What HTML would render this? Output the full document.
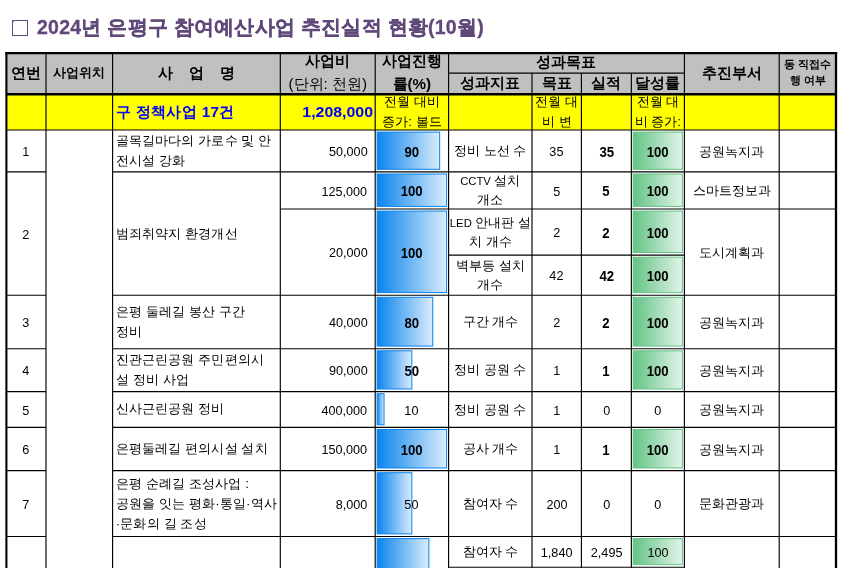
<!DOCTYPE html>
<html lang="ko"><head><meta charset="utf-8"><title>2024년 은평구 참여예산사업 추진실적 현황(10월)</title>
<style>
html,body{margin:0;padding:0;background:#fff;}
body{font-family:"Liberation Sans",sans-serif;color:#000;}
#w{will-change:transform;position:relative;width:842px;height:568px;overflow:hidden;background:#fff;}
#w svg{position:absolute;left:0;top:0;}
.bg{position:absolute;}
.sq{display:inline-block;box-sizing:border-box;width:16.4px;height:16.4px;border:1.3px solid #60497a;color:transparent;font-size:1px;line-height:1px;letter-spacing:0;overflow:hidden;vertical-align:-2.5px;margin-right:8.6px;}
.title{position:absolute;left:12px;top:11.5px;height:30px;line-height:30px;font-size:19.5px;letter-spacing:.25px;font-weight:bold;color:#60497a;white-space:nowrap;-webkit-text-stroke:.3px #60497a;}
.c{position:absolute;box-sizing:border-box;display:flex;align-items:center;justify-content:center;text-align:center;
   font-size:13.3px;line-height:20px;white-space:nowrap;overflow:hidden;}
.c span{display:block;}
.l{justify-content:flex-start;text-align:left;padding-left:3.2px;}
.r{justify-content:flex-end;text-align:right;padding-right:8px;}
.h{font-weight:bold;font-size:15.2px;line-height:22.5px;padding-bottom:1.5px;}
.h2{padding-top:0;}
.h .n{font-weight:normal;}
.b{font-weight:bold;}
.num.b{font-size:14px;padding-top:1.2px;}
.num.b span{transform:scaleX(.94);}
.la{font-style:normal;font-size:11.3px;}
.yb{font-weight:bold;font-size:15.3px;color:#0000ff;}
.yb.l{letter-spacing:.35px;}
.yb.r span{transform:scaleX(1.04);transform-origin:100% 50%;}
.yt{font-size:13.2px;line-height:20px;}
.num{font-size:13.3px;padding-top:2.4px;}
.num span{transform:scaleX(.95);}
.r.num span{transform-origin:100% 50%;}
.ind{font-size:12.5px;line-height:19px;padding-top:1.4px;}
.dp{font-size:13.2px;padding-top:1.6px;}
.nm{font-size:13.3px;line-height:20px;letter-spacing:.12px;}
</style></head><body>
<div id="w">
<div class="bg" style="left:6px;top:53px;width:830px;height:41px;background:#c0c0c0;"></div>
<div class="bg" style="left:6px;top:94px;width:830px;height:36px;background:#ffff00;"></div>
<svg width="842" height="568" viewBox="0 0 842 568">
<defs>
<linearGradient id="bg" x1="0" y1="0" x2="1" y2="0"><stop offset="0" stop-color="#0a84ee"/><stop offset="1" stop-color="#d9ecfc"/></linearGradient>
<linearGradient id="gg" x1="0" y1="0" x2="1" y2="0"><stop offset="0" stop-color="#63c384"/><stop offset="1" stop-color="#e3f4ea"/></linearGradient>
</defs>
<rect x="377.1" y="132.1" width="62.55" height="37.2" fill="url(#bg)" stroke="#0a84ee" stroke-width="1"/><rect x="633.2" y="132.1" width="49.2" height="37.2" fill="url(#gg)" stroke="#63c384" stroke-width="1"/><rect x="377.1" y="174" width="69.5" height="32.4" fill="url(#bg)" stroke="#0a84ee" stroke-width="1"/><rect x="633.2" y="174" width="49.2" height="32.4" fill="url(#gg)" stroke="#63c384" stroke-width="1"/><rect x="377.1" y="211.1" width="69.5" height="81.5" fill="url(#bg)" stroke="#0a84ee" stroke-width="1"/><rect x="633.2" y="211.1" width="49.2" height="41.4" fill="url(#gg)" stroke="#63c384" stroke-width="1"/><rect x="633.2" y="257.2" width="49.2" height="35.4" fill="url(#gg)" stroke="#63c384" stroke-width="1"/><rect x="377.1" y="297.3" width="55.6" height="48.8" fill="url(#bg)" stroke="#0a84ee" stroke-width="1"/><rect x="633.2" y="297.3" width="49.2" height="48.8" fill="url(#gg)" stroke="#63c384" stroke-width="1"/><rect x="377.1" y="350.8" width="34.75" height="38.2" fill="url(#bg)" stroke="#0a84ee" stroke-width="1"/><rect x="633.2" y="350.8" width="49.2" height="38.2" fill="url(#gg)" stroke="#63c384" stroke-width="1"/><rect x="377.1" y="393.7" width="6.95" height="31.1" fill="url(#bg)" stroke="#0a84ee" stroke-width="1"/><rect x="377.1" y="429.5" width="69.5" height="38.5" fill="url(#bg)" stroke="#0a84ee" stroke-width="1"/><rect x="633.2" y="429.5" width="49.2" height="38.5" fill="url(#gg)" stroke="#63c384" stroke-width="1"/><rect x="377.1" y="472.7" width="34.75" height="61.2" fill="url(#bg)" stroke="#0a84ee" stroke-width="1"/><rect x="377.1" y="538.6" width="51.7775" height="58.8" fill="url(#bg)" stroke="#0a84ee" stroke-width="1"/><rect x="633.2" y="538.6" width="49.2" height="26" fill="url(#gg)" stroke="#63c384" stroke-width="1"/>
<line x1="6.4" y1="52" x2="6.4" y2="568" stroke="#000" stroke-width="2.1"/><line x1="836" y1="52" x2="836" y2="568" stroke="#000" stroke-width="2.3"/><line x1="5.35" y1="53.1" x2="837.15" y2="53.1" stroke="#000" stroke-width="2.2"/><line x1="6.4" y1="94.25" x2="836" y2="94.25" stroke="#000" stroke-width="2.3"/><line x1="448.6" y1="73.05" x2="684.4" y2="73.05" stroke="#000" stroke-width="1.15"/><line x1="46" y1="53.1" x2="46" y2="94.25" stroke="#000" stroke-width="1.15"/><line x1="112.6" y1="53.1" x2="112.6" y2="94.25" stroke="#000" stroke-width="1.15"/><line x1="280.3" y1="53.1" x2="280.3" y2="94.25" stroke="#000" stroke-width="1.15"/><line x1="375.2" y1="53.1" x2="375.2" y2="94.25" stroke="#000" stroke-width="1.15"/><line x1="448.6" y1="53.1" x2="448.6" y2="94.25" stroke="#000" stroke-width="1.15"/><line x1="684.4" y1="53.1" x2="684.4" y2="94.25" stroke="#000" stroke-width="1.15"/><line x1="779.2" y1="53.1" x2="779.2" y2="94.25" stroke="#000" stroke-width="1.15"/><line x1="532" y1="73.05" x2="532" y2="94.25" stroke="#000" stroke-width="1.15"/><line x1="581.4" y1="73.05" x2="581.4" y2="94.25" stroke="#000" stroke-width="1.15"/><line x1="631.35" y1="73.05" x2="631.35" y2="94.25" stroke="#000" stroke-width="1.15"/><line x1="46" y1="94.25" x2="46" y2="568" stroke="#000" stroke-width="1.15"/><line x1="112.6" y1="94.25" x2="112.6" y2="568" stroke="#000" stroke-width="1.15"/><line x1="280.3" y1="94.25" x2="280.3" y2="568" stroke="#000" stroke-width="1.15"/><line x1="375.2" y1="94.25" x2="375.2" y2="568" stroke="#000" stroke-width="1.15"/><line x1="448.6" y1="94.25" x2="448.6" y2="568" stroke="#000" stroke-width="1.15"/><line x1="532" y1="94.25" x2="532" y2="568" stroke="#000" stroke-width="1.15"/><line x1="581.4" y1="94.25" x2="581.4" y2="568" stroke="#000" stroke-width="1.15"/><line x1="631.35" y1="94.25" x2="631.35" y2="568" stroke="#000" stroke-width="1.15"/><line x1="684.4" y1="94.25" x2="684.4" y2="568" stroke="#000" stroke-width="1.15"/><line x1="779.2" y1="94.25" x2="779.2" y2="568" stroke="#000" stroke-width="1.15"/><line x1="6.4" y1="130" x2="836" y2="130" stroke="#000" stroke-width="1.15"/><line x1="6.4" y1="171.9" x2="46" y2="171.9" stroke="#000" stroke-width="1.15"/><line x1="112.6" y1="171.9" x2="836" y2="171.9" stroke="#000" stroke-width="1.15"/><line x1="6.4" y1="295.2" x2="46" y2="295.2" stroke="#000" stroke-width="1.15"/><line x1="112.6" y1="295.2" x2="836" y2="295.2" stroke="#000" stroke-width="1.15"/><line x1="6.4" y1="348.7" x2="46" y2="348.7" stroke="#000" stroke-width="1.15"/><line x1="112.6" y1="348.7" x2="836" y2="348.7" stroke="#000" stroke-width="1.15"/><line x1="6.4" y1="391.6" x2="46" y2="391.6" stroke="#000" stroke-width="1.15"/><line x1="112.6" y1="391.6" x2="836" y2="391.6" stroke="#000" stroke-width="1.15"/><line x1="6.4" y1="427.4" x2="46" y2="427.4" stroke="#000" stroke-width="1.15"/><line x1="112.6" y1="427.4" x2="836" y2="427.4" stroke="#000" stroke-width="1.15"/><line x1="6.4" y1="470.6" x2="46" y2="470.6" stroke="#000" stroke-width="1.15"/><line x1="112.6" y1="470.6" x2="836" y2="470.6" stroke="#000" stroke-width="1.15"/><line x1="6.4" y1="536.5" x2="46" y2="536.5" stroke="#000" stroke-width="1.15"/><line x1="112.6" y1="536.5" x2="836" y2="536.5" stroke="#000" stroke-width="1.15"/><line x1="280.3" y1="209" x2="836" y2="209" stroke="#000" stroke-width="1.15"/><line x1="448.6" y1="255.1" x2="684.4" y2="255.1" stroke="#000" stroke-width="1.15"/><line x1="448.6" y1="567.2" x2="684.4" y2="567.2" stroke="#000" stroke-width="1.15"/>
</svg>
<div class="title"><span class="sq">□</span>2024년 은평구 참여예산사업 추진실적 현황(10월)</div>
<div class="c h" style="left:6.4px;top:53.1px;width:39.6px;height:41.15px;font-size:15px;"><span>연번</span></div>
<div class="c h" style="left:46px;top:53.1px;width:66.6px;height:41.15px;font-size:13px;"><span>사업위치</span></div>
<div class="c h" style="left:112.6px;top:53.1px;width:167.7px;height:41.15px;word-spacing:12px;"><span>사 업 명</span></div>
<div class="c h h2" style="left:280.3px;top:53.1px;width:94.9px;height:41.15px;"><span>사업비<br><b class="n">(단위: 천원)</b></span></div>
<div class="c h h2" style="left:375.2px;top:53.1px;width:73.4px;height:41.15px;"><span>사업진행<br>률(%)</span></div>
<div class="c h" style="left:448.6px;top:53.1px;width:235.8px;height:19.95px;"><span>성과목표</span></div>
<div class="c h" style="left:448.6px;top:73.05px;width:83.4px;height:21.2px;"><span>성과지표</span></div>
<div class="c h" style="left:532px;top:73.05px;width:49.4px;height:21.2px;"><span>목표</span></div>
<div class="c h" style="left:581.4px;top:73.05px;width:49.95px;height:21.2px;"><span>실적</span></div>
<div class="c h" style="left:631.35px;top:73.05px;width:53.05px;height:21.2px;"><span>달성률</span></div>
<div class="c h" style="left:684.4px;top:53.1px;width:94.8px;height:41.15px;"><span>추진부서</span></div>
<div class="c h" style="left:779.2px;top:53.1px;width:56.8px;height:41.15px;font-size:11px;line-height:16px;padding-bottom:3.1px;"><span>동 직접수<br>행 여부</span></div>
<div class="c yb l" style="left:112.6px;top:94.25px;width:167.7px;height:35.75px;"><span>구 정책사업 17건</span></div>
<div class="c yb r" style="left:280.3px;top:94.25px;width:94.9px;height:35.75px;padding-right:2.6px;"><span>1,208,000</span></div>
<div class="c yt" style="left:375.2px;top:94.25px;width:73.4px;height:35.75px;"><span>전월 대비<br>증가: 볼드</span></div>
<div class="c yt" style="left:532px;top:94.25px;width:49.4px;height:35.75px;"><span>전월 대<br>비 변</span></div>
<div class="c yt" style="left:631.35px;top:94.25px;width:53.05px;height:35.75px;"><span>전월 대<br>비 증가:</span></div>
<div class="c num" style="left:6.4px;top:130px;width:39.6px;height:41.9px;"><span>1</span></div>
<div class="c l nm" style="left:112.6px;top:130px;width:167.7px;height:41.9px;"><span>골목길마다의 가로수 및 안<br>전시설 강화</span></div>
<div class="c r num" style="left:280.3px;top:130px;width:94.9px;height:41.9px;"><span>50,000</span></div>
<div class="c num b" style="left:375.2px;top:130px;width:73.4px;height:41.9px;"><span>90</span></div>
<div class="c ind" style="left:448.6px;top:130px;width:83.4px;height:41.9px;"><span>정비 노선 수</span></div>
<div class="c num" style="left:532px;top:130px;width:49.4px;height:41.9px;"><span>35</span></div>
<div class="c num b" style="left:581.4px;top:130px;width:49.95px;height:41.9px;"><span>35</span></div>
<div class="c num b" style="left:631.35px;top:130px;width:53.05px;height:41.9px;"><span>100</span></div>
<div class="c dp" style="left:684.4px;top:130px;width:94.8px;height:41.9px;"><span>공원녹지과</span></div>
<div class="c num" style="left:6.4px;top:171.9px;width:39.6px;height:123.3px;"><span>2</span></div>
<div class="c l nm" style="left:112.6px;top:171.9px;width:167.7px;height:123.3px;"><span>범죄취약지 환경개선</span></div>
<div class="c r num" style="left:280.3px;top:171.9px;width:94.9px;height:37.1px;"><span>125,000</span></div>
<div class="c num b" style="left:375.2px;top:171.9px;width:73.4px;height:37.1px;"><span>100</span></div>
<div class="c ind" style="left:448.6px;top:171.9px;width:83.4px;height:37.1px;"><span><i class="la">CCTV</i> 설치<br>개소</span></div>
<div class="c num" style="left:532px;top:171.9px;width:49.4px;height:37.1px;"><span>5</span></div>
<div class="c num b" style="left:581.4px;top:171.9px;width:49.95px;height:37.1px;"><span>5</span></div>
<div class="c num b" style="left:631.35px;top:171.9px;width:53.05px;height:37.1px;"><span>100</span></div>
<div class="c dp" style="left:684.4px;top:171.9px;width:94.8px;height:37.1px;"><span>스마트정보과</span></div>
<div class="c r num" style="left:280.3px;top:209px;width:94.9px;height:86.2px;"><span>20,000</span></div>
<div class="c num b" style="left:375.2px;top:209px;width:73.4px;height:86.2px;"><span>100</span></div>
<div class="c ind" style="left:448.6px;top:209px;width:83.4px;height:46.1px;"><span><i class="la">LED</i> 안내판 설<br>치 개수</span></div>
<div class="c num" style="left:532px;top:209px;width:49.4px;height:46.1px;"><span>2</span></div>
<div class="c num b" style="left:581.4px;top:209px;width:49.95px;height:46.1px;"><span>2</span></div>
<div class="c num b" style="left:631.35px;top:209px;width:53.05px;height:46.1px;"><span>100</span></div>
<div class="c ind" style="left:448.6px;top:255.1px;width:83.4px;height:40.1px;"><span>벽부등 설치<br>개수</span></div>
<div class="c num" style="left:532px;top:255.1px;width:49.4px;height:40.1px;"><span>42</span></div>
<div class="c num b" style="left:581.4px;top:255.1px;width:49.95px;height:40.1px;"><span>42</span></div>
<div class="c num b" style="left:631.35px;top:255.1px;width:53.05px;height:40.1px;"><span>100</span></div>
<div class="c dp" style="left:684.4px;top:209px;width:94.8px;height:86.2px;"><span>도시계획과</span></div>
<div class="c num" style="left:6.4px;top:295.2px;width:39.6px;height:53.5px;"><span>3</span></div>
<div class="c l nm" style="left:112.6px;top:295.2px;width:167.7px;height:53.5px;"><span>은평 둘레길 봉산 구간<br>정비</span></div>
<div class="c r num" style="left:280.3px;top:295.2px;width:94.9px;height:53.5px;"><span>40,000</span></div>
<div class="c num b" style="left:375.2px;top:295.2px;width:73.4px;height:53.5px;"><span>80</span></div>
<div class="c ind" style="left:448.6px;top:295.2px;width:83.4px;height:53.5px;"><span>구간 개수</span></div>
<div class="c num" style="left:532px;top:295.2px;width:49.4px;height:53.5px;"><span>2</span></div>
<div class="c num b" style="left:581.4px;top:295.2px;width:49.95px;height:53.5px;"><span>2</span></div>
<div class="c num b" style="left:631.35px;top:295.2px;width:53.05px;height:53.5px;"><span>100</span></div>
<div class="c dp" style="left:684.4px;top:295.2px;width:94.8px;height:53.5px;"><span>공원녹지과</span></div>
<div class="c num" style="left:6.4px;top:348.7px;width:39.6px;height:42.9px;"><span>4</span></div>
<div class="c l nm" style="left:112.6px;top:348.7px;width:167.7px;height:42.9px;"><span>진관근린공원 주민편의시<br>설 정비 사업</span></div>
<div class="c r num" style="left:280.3px;top:348.7px;width:94.9px;height:42.9px;"><span>90,000</span></div>
<div class="c num b" style="left:375.2px;top:348.7px;width:73.4px;height:42.9px;"><span>50</span></div>
<div class="c ind" style="left:448.6px;top:348.7px;width:83.4px;height:42.9px;"><span>정비 공원 수</span></div>
<div class="c num" style="left:532px;top:348.7px;width:49.4px;height:42.9px;"><span>1</span></div>
<div class="c num b" style="left:581.4px;top:348.7px;width:49.95px;height:42.9px;"><span>1</span></div>
<div class="c num b" style="left:631.35px;top:348.7px;width:53.05px;height:42.9px;"><span>100</span></div>
<div class="c dp" style="left:684.4px;top:348.7px;width:94.8px;height:42.9px;"><span>공원녹지과</span></div>
<div class="c num" style="left:6.4px;top:391.6px;width:39.6px;height:35.8px;"><span>5</span></div>
<div class="c l nm" style="left:112.6px;top:391.6px;width:167.7px;height:35.8px;"><span>신사근린공원 정비</span></div>
<div class="c r num" style="left:280.3px;top:391.6px;width:94.9px;height:35.8px;"><span>400,000</span></div>
<div class="c num" style="left:375.2px;top:391.6px;width:73.4px;height:35.8px;"><span>10</span></div>
<div class="c ind" style="left:448.6px;top:391.6px;width:83.4px;height:35.8px;"><span>정비 공원 수</span></div>
<div class="c num" style="left:532px;top:391.6px;width:49.4px;height:35.8px;"><span>1</span></div>
<div class="c num" style="left:581.4px;top:391.6px;width:49.95px;height:35.8px;"><span>0</span></div>
<div class="c num" style="left:631.35px;top:391.6px;width:53.05px;height:35.8px;"><span>0</span></div>
<div class="c dp" style="left:684.4px;top:391.6px;width:94.8px;height:35.8px;"><span>공원녹지과</span></div>
<div class="c num" style="left:6.4px;top:427.4px;width:39.6px;height:43.2px;"><span>6</span></div>
<div class="c l nm" style="left:112.6px;top:427.4px;width:167.7px;height:43.2px;"><span>은평둘레길 편의시설 설치</span></div>
<div class="c r num" style="left:280.3px;top:427.4px;width:94.9px;height:43.2px;"><span>150,000</span></div>
<div class="c num b" style="left:375.2px;top:427.4px;width:73.4px;height:43.2px;"><span>100</span></div>
<div class="c ind" style="left:448.6px;top:427.4px;width:83.4px;height:43.2px;"><span>공사 개수</span></div>
<div class="c num" style="left:532px;top:427.4px;width:49.4px;height:43.2px;"><span>1</span></div>
<div class="c num b" style="left:581.4px;top:427.4px;width:49.95px;height:43.2px;"><span>1</span></div>
<div class="c num b" style="left:631.35px;top:427.4px;width:53.05px;height:43.2px;"><span>100</span></div>
<div class="c dp" style="left:684.4px;top:427.4px;width:94.8px;height:43.2px;"><span>공원녹지과</span></div>
<div class="c num" style="left:6.4px;top:470.6px;width:39.6px;height:65.9px;"><span>7</span></div>
<div class="c l nm" style="left:112.6px;top:470.6px;width:167.7px;height:65.9px;"><span>은평 순례길 조성사업 :<br>공원을 잇는 평화·통일·역사<br>·문화의 길 조성</span></div>
<div class="c r num" style="left:280.3px;top:470.6px;width:94.9px;height:65.9px;"><span>8,000</span></div>
<div class="c num" style="left:375.2px;top:470.6px;width:73.4px;height:65.9px;"><span>50</span></div>
<div class="c ind" style="left:448.6px;top:470.6px;width:83.4px;height:65.9px;"><span>참여자 수</span></div>
<div class="c num" style="left:532px;top:470.6px;width:49.4px;height:65.9px;"><span>200</span></div>
<div class="c num" style="left:581.4px;top:470.6px;width:49.95px;height:65.9px;"><span>0</span></div>
<div class="c num" style="left:631.35px;top:470.6px;width:53.05px;height:65.9px;"><span>0</span></div>
<div class="c dp" style="left:684.4px;top:470.6px;width:94.8px;height:65.9px;"><span>문화관광과</span></div>
<div class="c ind" style="left:448.6px;top:536.5px;width:83.4px;height:30.7px;"><span>참여자 수</span></div>
<div class="c num" style="left:532px;top:536.5px;width:49.4px;height:30.7px;"><span>1,840</span></div>
<div class="c num" style="left:581.4px;top:536.5px;width:49.95px;height:30.7px;"><span>2,495</span></div>
<div class="c num" style="left:631.35px;top:536.5px;width:53.05px;height:30.7px;"><span>100</span></div>
</div>
</body></html>
